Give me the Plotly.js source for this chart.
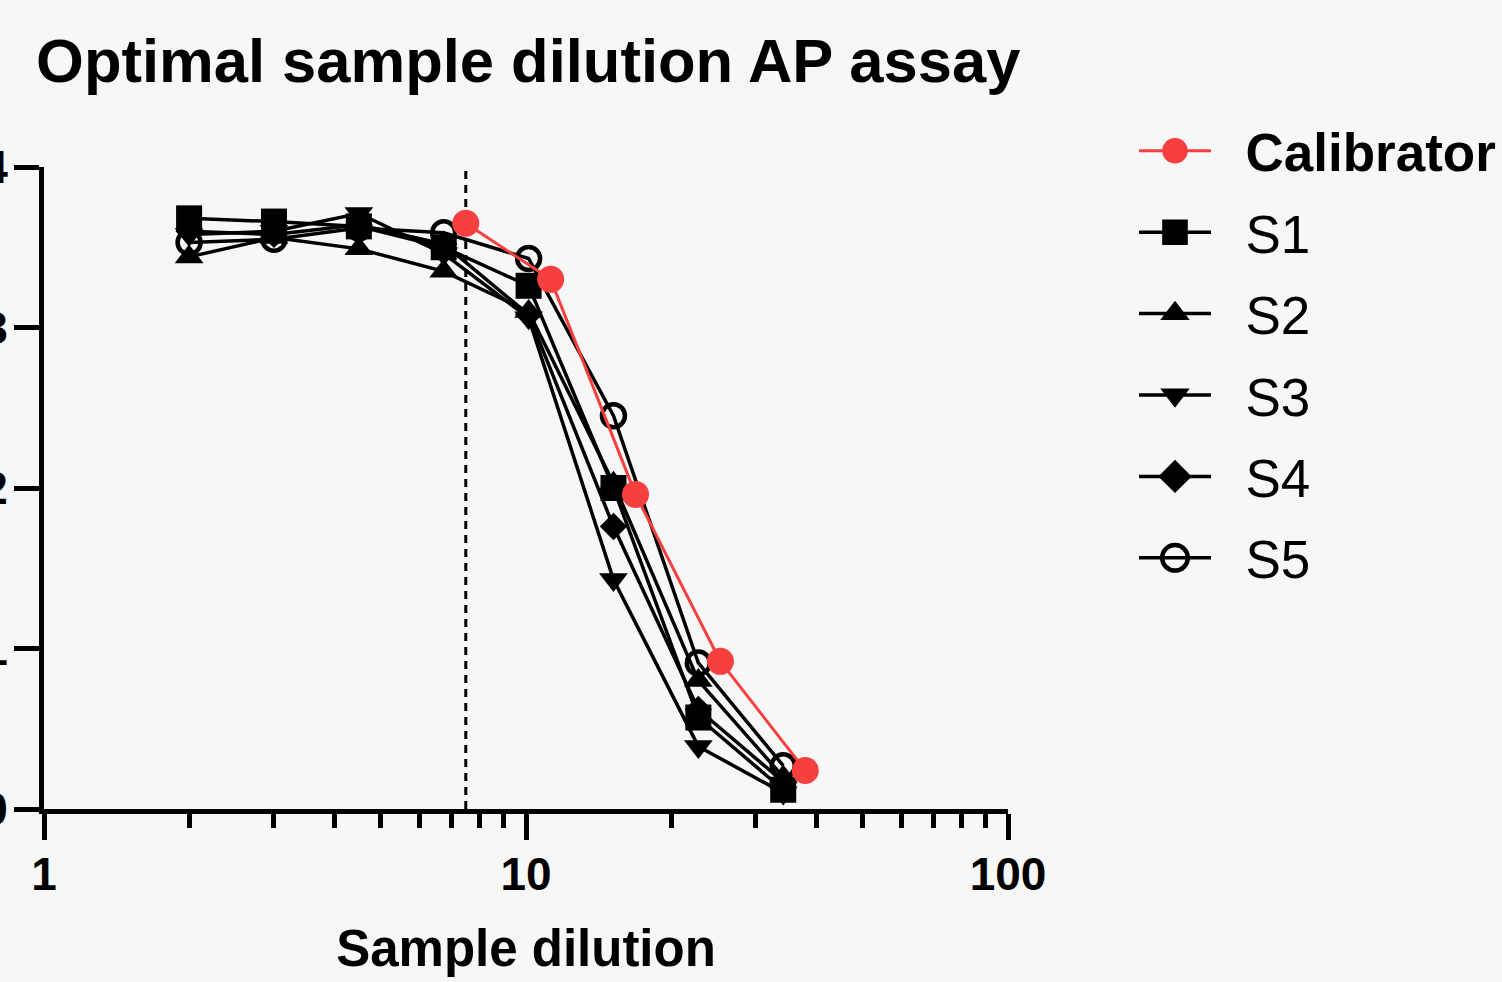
<!DOCTYPE html>
<html>
<head>
<meta charset="utf-8">
<script src="https://cdn.plot.ly/plotly-3.0.1.min.js"></script>
<style>
  html, body { margin: 0; padding: 0; background: #f7f7f7; }
  #chart { width: 1502px; height: 982px; }
</style>
</head>
<body>
<div id="chart"></div>
<script>
// ---- data ----
const sampleDilutions = [2, 3, 4.5, 6.75, 10.125, 15.1875, 22.78, 34.17];
const calibratorDilutions = [7.5, 11.25, 16.875, 25.31, 37.97];
const calibratorValues = [3.65, 3.30, 1.96, 0.92, 0.24];
const s1Values = [3.68, 3.66, 3.63, 3.50, 3.26, 2.00, 0.57, 0.12];
const s2Values = [3.44, 3.56, 3.49, 3.35, 3.10, 2.03, 0.80, 0.20];
const s3Values = [3.58, 3.60, 3.71, 3.46, 3.06, 1.43, 0.39, 0.10];
const s4Values = [3.60, 3.58, 3.64, 3.52, 3.08, 1.76, 0.62, 0.17];
const s5Values = [3.53, 3.55, 3.62, 3.59, 3.43, 2.45, 0.91, 0.27];
const optimalDilution = 7.5;
const seriesNames = ['Calibrator', 'S1', 'S2', 'S3', 'S4', 'S5'];
const xTickVals = [1, 10, 100];
const xTickText = ['1', '10', '100'];
const xMinorTickVals = [2, 3, 4, 5, 6, 7, 8, 9, 20, 30, 40, 50, 60, 70, 80, 90];
const yTickVals = [0, 1, 2, 3, 4];
const yRange = [0, 4];

// ---- styling ----
const FONT = '"Liberation Sans", Arial, Helvetica, sans-serif';
const RED = '#f5403f';
const BLACK = '#000000';
const legendPad = '\u00a0\u00a0';

function sampleTrace(name, values, symbol, size, rank, lineWidth) {
  return {
    type: 'scatter', mode: 'lines+markers',
    x: sampleDilutions, y: values,
    name: legendPad + name,
    legendgroup: name, legendrank: rank,
    line: { color: BLACK, width: 3.5 },
    marker: { symbol: symbol, size: size, color: BLACK,
              line: { color: BLACK, width: lineWidth || 0 } },
    cliponaxis: false
  };
}

const traces = [
  {
    type: 'scatter', mode: 'lines',
    x: [optimalDilution, optimalDilution], y: yRange,
    line: { color: BLACK, width: 3, dash: '8px,6px' },
    showlegend: false, hoverinfo: 'skip'
  },
  sampleTrace(seriesNames[1], s1Values, 'square', 26, 2),
  sampleTrace(seriesNames[2], s2Values, 'triangle-up', 25, 3),
  sampleTrace(seriesNames[3], s3Values, 'triangle-down', 25, 4),
  sampleTrace(seriesNames[4], s4Values, 'diamond', 21, 5),
  sampleTrace(seriesNames[5], s5Values, 'circle-open', 23, 6, 4.5),
  {
    type: 'scatter', mode: 'lines+markers',
    x: calibratorDilutions, y: calibratorValues,
    name: legendPad + '<b>' + seriesNames[0] + '</b>',
    legendgroup: seriesNames[0], legendrank: 1,
    line: { color: RED, width: 3 },
    marker: { symbol: 'circle', size: 27, color: RED },
    cliponaxis: false
  }
];

const layout = {
  width: 1502, height: 982,
  paper_bgcolor: '#f7f7f7', plot_bgcolor: '#f7f7f7',
  margin: { l: 44, r: 494, t: 167, b: 173, autoexpand: false },
  font: { family: FONT, color: BLACK },
  title: {
    text: '<b>Optimal sample dilution AP assay</b>',
    font: { family: FONT, size: 61.5, color: BLACK },
    xref: 'container', x: 0.024, xanchor: 'left',
    yref: 'container', y: 0.938, yanchor: 'middle'
  },
  xaxis: {
    type: 'log', range: [0, 2], autorange: false,
    showgrid: false, zeroline: false,
    showline: true, linecolor: BLACK, linewidth: 5,
    ticks: 'outside', ticklen: 26, tickwidth: 5, tickcolor: BLACK,
    tickmode: 'array', tickvals: xTickVals, ticktext: xTickText,
    tickfont: { family: FONT, size: 46, color: BLACK, weight: 'bold' },
    ticklabelstandoff: -5,
    minor: { tickmode: 'array', tickvals: xMinorTickVals, ticks: 'outside',
             ticklen: 14, tickwidth: 5, tickcolor: BLACK, showgrid: false },
    title: { text: '<b>Sample dilution</b>', standoff: 33,
             font: { family: FONT, size: 51, color: BLACK } },
    automargin: false
  },
  yaxis: {
    range: yRange, autorange: false,
    showgrid: false, zeroline: false,
    showline: true, linecolor: BLACK, linewidth: 5,
    ticks: 'outside', ticklen: 25, tickwidth: 5, tickcolor: BLACK,
    tickmode: 'array', tickvals: yTickVals,
    tickfont: { family: FONT, size: 46, color: BLACK, weight: 'bold' },
    ticklabelstandoff: -3,
    automargin: false
  },
  showlegend: true,
  legend: {
    x: 1.1307, xanchor: 'left', y: 1.089, yanchor: 'top',
    bgcolor: 'rgba(0,0,0,0)', borderwidth: 0,
    font: { family: FONT, size: 53, color: BLACK },
    traceorder: 'grouped', tracegroupgap: 9.5,
    itemwidth: 72, itemclick: false, itemdoubleclick: false
  }
};

Plotly.newPlot('chart', traces, layout, { displayModeBar: false, staticPlot: true }).then(function (gd) {
  // enlarge legend symbols to match the plotted marker size (legend caps them at 16px)
  const pts = document.querySelectorAll('.legend .legendpoints path.scatterpts');
  pts.forEach(function (p) {
    const t = p.getAttribute('transform') || '';
    p.setAttribute('transform', t + ' scale(1.6)');
    p.style.vectorEffect = 'non-scaling-stroke';
  });
});
</script>
</body>
</html>
